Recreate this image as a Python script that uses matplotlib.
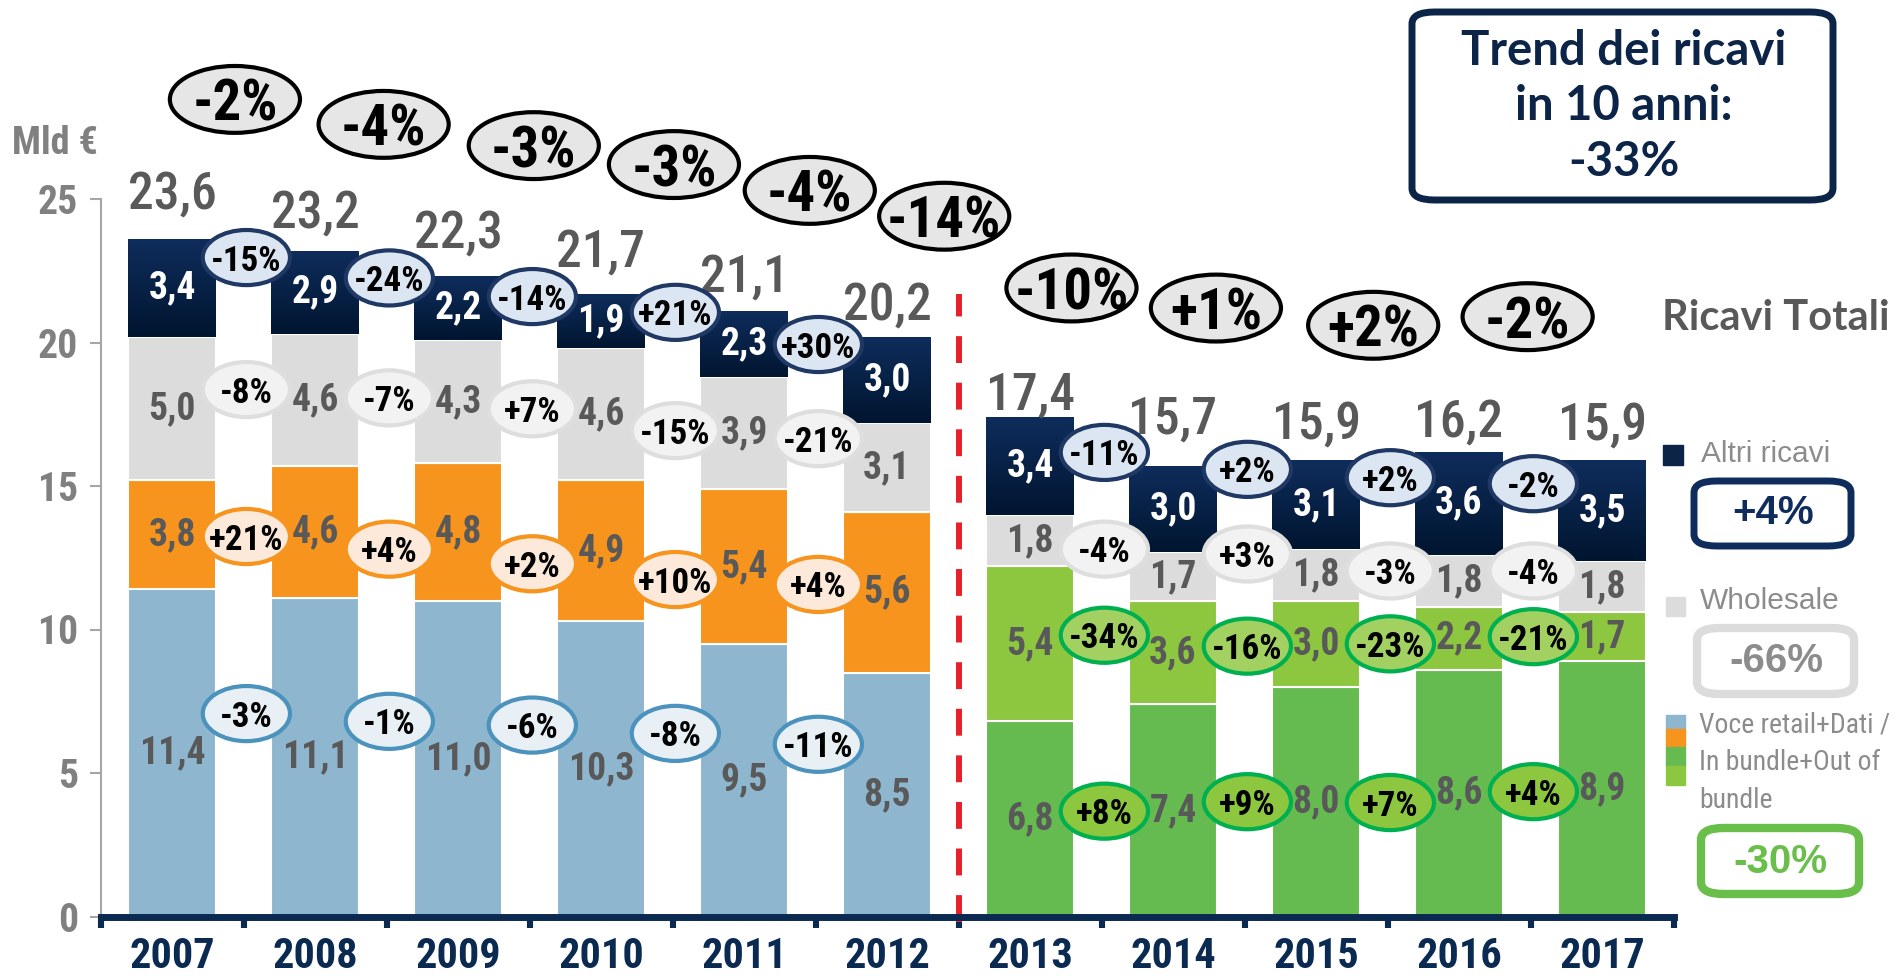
import matplotlib
matplotlib.use("Agg")
import matplotlib.pyplot as plt
import numpy as np
from matplotlib import font_manager as fm
from matplotlib.patches import Ellipse, FancyBboxPatch, Rectangle
from matplotlib.colors import LinearSegmentedColormap

# pick a condensed face if one is installed
_fl = fm.fontManager.ttflist
_names = {f.name for f in _fl}
if "Liberation Sans Narrow" in _names:
    NARROW, S = dict(family=["Liberation Sans Narrow", "DejaVu Sans"]), 1.0
elif "Roboto Condensed" in _names:
    NARROW, S = dict(family=["Roboto Condensed", "DejaVu Sans"]), 0.95
elif any("Condensed" in f.fname and f.name == "DejaVu Sans" for f in _fl):
    NARROW, S = dict(family=["DejaVu Sans"], stretch="condensed"), 0.9
else:
    NARROW, S = dict(family=["Liberation Sans", "DejaVu Sans"]), 0.86
ARIAL = dict(family=["Liberation Sans", "DejaVu Sans"])
SANS = dict(family=["Lato", "DejaVu Sans"])

# --- data (Mld €) ---
years = ["2007", "2008", "2009", "2010", "2011", "2012", "2013", "2014", "2015", "2016", "2017"]
voce = [11.4, 11.1, 11.0, 10.3, 9.5, 8.5, 6.8, 7.4, 8.0, 8.6, 8.9]      # voce retail / in bundle
dati = [3.8, 4.6, 4.8, 4.9, 5.4, 5.6, 5.4, 3.6, 3.0, 2.2, 1.7]          # dati / out of bundle
wholesale = [5.0, 4.6, 4.3, 4.6, 3.9, 3.1, 1.8, 1.7, 1.8, 1.8, 1.8]
altri = [3.4, 2.9, 2.2, 1.9, 2.3, 3.0, 3.4, 3.0, 3.1, 3.6, 3.5]
totali = [23.6, 23.2, 22.3, 21.7, 21.1, 20.2, 17.4, 15.7, 15.9, 16.2, 15.9]

var_tot = ["-2%", "-4%", "-3%", "-3%", "-4%", "-14%", "-10%", "+1%", "+2%", "-2%"]
var_altri = ["-15%", "-24%", "-14%", "+21%", "+30%", None, "-11%", "+2%", "+2%", "-2%"]
var_whs = ["-8%", "-7%", "+7%", "-15%", "-21%", None, "-4%", "+3%", "-3%", "-4%"]
var_dati = ["+21%", "+4%", "+2%", "+10%", "+4%", None, "-34%", "-16%", "-23%", "-21%"]
var_voce = ["-3%", "-1%", "-6%", "-8%", "-11%", None, "+8%", "+9%", "+7%", "+4%"]

# --- layout of the bubbles (data coords) ---
x_tot = [0.44, 1.48, 2.53, 3.51, 4.46, 5.40, 6.29, 7.30, 8.40, 9.48]
y_tot = [28.47, 27.6, 26.86, 26.2, 25.3, 24.4, 21.9, 21.2, 20.6, 20.9]
y_altri = [22.96, 22.25, 21.6, 21.05, 19.93, None, 16.17, 15.58, 15.29, 15.08]
y_whs = [18.36, 18.07, 17.69, 16.93, 16.65, None, 12.8, 12.63, 12.04, 12.04]
y_dati = [13.24, 12.8, 12.29, 11.74, 11.57, None, 9.8, 9.42, 9.5, 9.75]
y_voce = [7.07, 6.8, 6.67, 6.38, 6.0, None, 3.67, 4.0, 3.97, 4.35]
tot_dy = [1.55, 1.3, 1.5, 1.45, 1.15, 1.1, 0.76, 1.6, 1.25, 1.0, 1.2]

NAVY = "#0b2a52"
GREY_TXT = "#595959"
BLUE, ORANGE = "#8fb6cf", "#f7941d"
GREEN, LGREEN = "#66bb50", "#8dc63f"

W, H = 1903, 976
PPU = 28.7  # pixels per Mld
fig = plt.figure(figsize=(W / 100, H / 100), dpi=100)
ax = fig.add_axes([100.5 / W, 1 - 916.5 / H, 1573 / W, 916.5 / H])

x = np.arange(len(years))
bw = 0.615
early = [y < "2013" for y in years]
c_bot = [BLUE if e else GREEN for e in early]
c_mid = [ORANGE if e else LGREEN for e in early]

b0 = np.zeros(len(years))
ax.bar(x, voce, bw, color=c_bot, edgecolor="white", lw=1.5, zorder=2)
b1 = b0 + voce
ax.bar(x, dati, bw, bottom=b1, color=c_mid, edgecolor="white", lw=1.5, zorder=2)
b2 = b1 + dati
ax.bar(x, wholesale, bw, bottom=b2, color="#dcdcdc", edgecolor="white", lw=1.5, zorder=2)
b3 = b2 + wholesale
bars_a = ax.bar(x, altri, bw, bottom=b3, color=NAVY, edgecolor="white", lw=1.5, zorder=2)

grad = np.linspace(0, 1, 256).reshape(-1, 1)
cm = LinearSegmentedColormap.from_list("nv", ["#001530", "#0f2d5c"])
for b in bars_a:
    im = ax.imshow(grad, cmap=cm, origin="lower", aspect="auto", zorder=2.1,
                   extent=[b.get_x(), b.get_x() + b.get_width(), b.get_y(), b.get_y() + b.get_height()])
    im.set_clip_path(b)


def fmt(v):
    return f"{v:.1f}".replace(".", ",")


# value labels in the segments
for i in x:
    kw = dict(ha="center", va="center", fontsize=28.5 * S, fontweight="bold", zorder=4, **NARROW)
    ax.text(i, b0[i] + voce[i] / 2, fmt(voce[i]), color=GREY_TXT, **kw)
    ax.text(i, b1[i] + dati[i] / 2, fmt(dati[i]), color=GREY_TXT, **kw)
    ax.text(i, b2[i] + wholesale[i] / 2, fmt(wholesale[i]), color=GREY_TXT, **kw)
    ax.text(i, b3[i] + altri[i] / 2, fmt(altri[i]), color="white", **kw)
    ax.text(i, totali[i] + tot_dy[i], fmt(totali[i]), ha="center", va="center",
            fontsize=39 * S, fontweight="medium", color=GREY_TXT, zorder=4, **NARROW)


def bubble(xc, yc, txt, w, h, fc, ec, size, lw=3):
    ax.add_patch(Ellipse((xc, yc), w, h, facecolor=fc, edgecolor=ec, lw=lw, zorder=5, clip_on=False))
    ax.text(xc, yc, txt, ha="center", va="center_baseline", fontsize=size * S, fontweight="bold",
            color="black", zorder=6, clip_on=False, **NARROW)


for k in range(len(var_tot)):
    bubble(x_tot[k], y_tot[k], var_tot[k], 0.91, 2.33, "#e6e6e6", "black", 43)
    if var_altri[k] is None:
        continue
    xc = k + 0.52
    late = k > 5
    bubble(xc, y_altri[k], var_altri[k], 0.61, 1.92, "#dce6f2", "#1f3864", 26.5)
    bubble(xc, y_whs[k], var_whs[k], 0.61, 1.92, "#f2f2f2", "#dedede", 26.5)
    bubble(xc, y_dati[k], var_dati[k], 0.61, 1.92, "#a2d162" if late else "#fde9d9",
           "#00b050" if late else ORANGE, 26.5)
    bubble(xc, y_voce[k], var_voce[k], 0.61, 1.92, "#8dc63f" if late else "#e8f0f6",
           "#00b050" if late else "#4b93bd", 26.5)

# dashed separator 2012 | 2013
ax.plot([5.5, 5.5], [-0.2, 21.7], color="#e8202a", lw=4.3, ls=(0, (4.5, 3.3)), zorder=3, clip_on=False)

# axes styling
ax.set_xlim(-0.5, 10.5)
ax.set_ylim(0, 916.5 / PPU)
for s in ["top", "right"]:
    ax.spines[s].set_visible(False)
ax.spines["left"].set_bounds(0, 25)
ax.spines["left"].set_color("#a6a6a6")
ax.spines["left"].set_linewidth(1.5)
ax.spines["bottom"].set_color(NAVY)
ax.spines["bottom"].set_linewidth(5)
ax.spines["bottom"].set_zorder(3)
ax.set_yticks([0, 5, 10, 15, 20, 25])
ax.set_yticklabels(["0", "5", "10", "15", "20", "25"], fontsize=30 * S, fontweight="bold",
                   color="#808080", **NARROW)
ax.tick_params(axis="y", length=8, width=1.5, color="#a6a6a6", pad=8)
ax.set_xticks(np.arange(-0.5, 11, 1))
ax.set_xticklabels([])
ax.tick_params(axis="x", length=8, width=4.4, color=NAVY, direction="out")
for i, yl in enumerate(years):
    ax.text(i, -1.38, yl, ha="center", va="center", fontsize=32 * S, fontweight="bold",
            color=NAVY, clip_on=False, **NARROW)

fig.text(12 / W, 1 - 144 / H, "Mld €", fontsize=29 * S, fontweight="bold", color="#808080", va="center", **NARROW)


# --- right side ---
def fx(px):
    return px / W


def fy(py):
    return 1 - py / H


def rbox(x0, y0, x1, y1, ec, lw):
    fig.patches.append(FancyBboxPatch((fx(x0), fy(y1)), fx(x1 - x0), (y1 - y0) / H,
                                      boxstyle="round,pad=0,rounding_size=0.012", transform=fig.transFigure,
                                      facecolor="white", edgecolor=ec, lw=lw, zorder=5))


rbox(1412, 12, 1833, 200, "#0b2447", 5)
for t, yy in zip(["Trend dei ricavi", "in 10 anni:", "-33%"], [51, 106, 162]):
    fig.text(fx(1624), fy(yy), t, ha="center", va="center", fontsize=34, fontweight="bold",
             color="#0b2447", zorder=10, **SANS)

fig.text(fx(1662), fy(318), "Ricavi Totali", va="center", fontsize=30, fontweight="bold",
         color=GREY_TXT, zorder=10, **SANS)

fig.patches.append(Rectangle((fx(1663), fy(465)), 20 / W, 20 / H, transform=fig.transFigure, color="#0b2447"))
fig.text(fx(1701), fy(454), "Altri ricavi", va="center", fontsize=21.5, color="#8c8c8c", zorder=10, **ARIAL)
rbox(1694, 481, 1851, 546, "#0f2d5c", 5)
fig.text(fx(1773), fy(513), "+4%", ha="center", va="center", fontsize=29, fontweight="bold",
         color="#0f2d5c", zorder=10, **ARIAL)

fig.patches.append(Rectangle((fx(1666), fy(616)), 19 / W, 19 / H, transform=fig.transFigure, color="#dcdcdc"))
fig.text(fx(1700), fy(601), "Wholesale", va="center", fontsize=21.5, color="#8c8c8c", zorder=10, **ARIAL)
rbox(1697, 628, 1854, 694, "#dcdcdc", 6)
fig.text(fx(1776), fy(661), "-66%", ha="center", va="center", fontsize=29, fontweight="bold",
         color="#8c8c8c", zorder=10, **ARIAL)

for c, (a, bb) in zip([BLUE, ORANGE, GREEN, LGREEN], [(715, 729), (729, 747), (747, 766), (766, 785)]):
    fig.patches.append(Rectangle((fx(1666), fy(bb)), 19 / W, (bb - a) / H, transform=fig.transFigure, color=c))
for t, yy in zip(["Voce retail+Dati /", "In bundle+Out of", "bundle"], [725, 762, 800]):
    fig.text(fx(1699), fy(yy), t, va="center", fontsize=21 * S, color="#8c8c8c", zorder=10, **NARROW)
rbox(1701, 828, 1859, 894, "#6abf4b", 6)
fig.text(fx(1780), fy(862), "-30%", ha="center", va="center", fontsize=29, fontweight="bold",
         color="#6abf4b", zorder=10, **ARIAL)

fig.savefig("out.png", dpi=100)
